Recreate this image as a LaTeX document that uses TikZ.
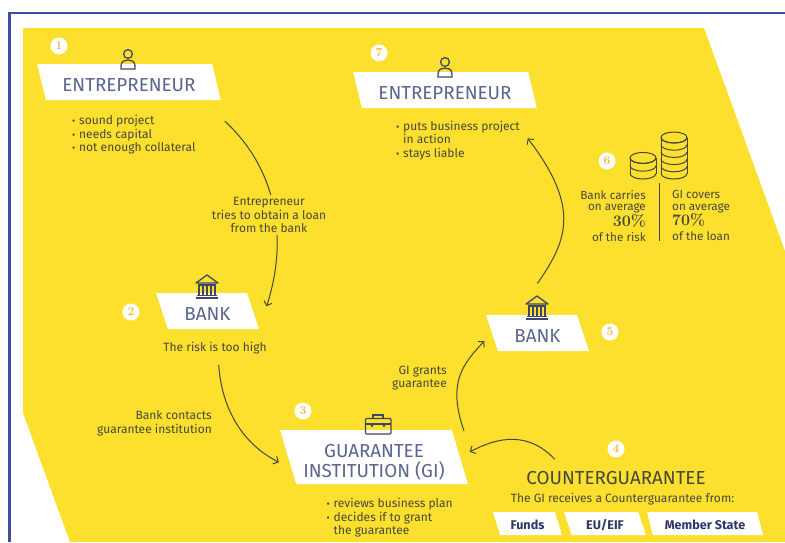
\documentclass[tikz,border=0pt]{standalone}
\usepackage{fontspec}
\setsansfont{Fira Sans}
\renewcommand{\familydefault}{\sfdefault}
\usetikzlibrary{shapes.geometric,arrows.meta}
\definecolor{sunyellow}{HTML}{FDE02E}
\definecolor{framblue}{HTML}{3B4FA0}
\definecolor{slateink}{HTML}{5A6591}
\definecolor{navyink}{HTML}{2F3768}
\definecolor{bodyink}{HTML}{45473F}
\definecolor{numorange}{HTML}{F4B63C}
\newcommand{\itm}{\makebox[7pt][l]{\raisebox{0pt}{\fontsize{10}{10}\selectfont\textbullet}}}
\newcommand{\noitm}{\hspace*{7pt}}
\tikzset{
   labelbox/.style={trapezium,trapezium left angle=110,trapezium right angle=70,trapezium stretches=true,
      fill=white,text=slateink,inner sep=0pt,align=center,text height=19pt,text depth=0pt,font=\fontsize{18.8}{20}\selectfont},
   smallbox/.style={labelbox,text=navyink,text height=12pt,font=\bfseries\fontsize{12.6}{12}\selectfont},
   bodytext/.style={text=bodyink,inner sep=0pt,font=\fontsize{12}{13.6}\selectfont},
   sidetext/.style={text=bodyink,inner sep=0pt,font=\fontsize{11.7}{11.6}\selectfont},
   flow/.style={draw=bodyink,line width=1pt,-{Straight Barb[length=4pt,width=8.5pt]}},
   numdot/.style={circle,fill=white,text=numorange,inner sep=0pt,minimum size=17pt,
      font=\rmfamily\bfseries\fontsize{12}{12}\selectfont},
   icon/.style={draw=slateink!70!black,line width=1.3pt},
   coinline/.style={draw=bodyink,line width=1pt},
   pics/person/.style={code={
      \draw[icon] (0,-5) circle(4.4);
      \draw[icon] (-7,10) -- (-7,7) .. controls (-7,2) and (-3,1) .. (0,1) .. controls (3,1) and (7,2) .. (7,7) -- (7,10) -- cycle;
   }},
   pics/temple/.style={code={
      \draw[icon,line join=round] (-11,-5) -- (0,-13) -- (11,-5) -- cycle;
      \foreach \colx in {-8,-4,0,4,8} {\draw[icon] (\colx,-3) -- (\colx,7);}
      \draw[icon] (-9,-3) -- (9,-3);
      \draw[icon] (-10,7.5) -- (10,7.5);
      \draw[icon] (-11,10) -- (11,10);
   }},
   pics/coins/.style n args={3}{code={
      \foreach \coinn in {0,...,#2} {\draw[coinline] (-#1,{-5.5-\coinn*#3}) arc[start angle=180,end angle=0,x radius=#1,y radius=5.5];}
      \draw[coinline] (-#1,{-5.5-#2*#3}) arc[start angle=180,end angle=-180,x radius=#1,y radius=5.5];
      \draw[coinline] (-#1,-5.5) -- (-#1,{-5.5-#2*#3});
      \draw[coinline] (#1,-5.5) -- (#1,{-5.5-#2*#3});
   }},
}
\begin{document}
\begin{tikzpicture}[x=1pt,y=-1pt]
   \useasboundingbox (0,0) rectangle (785,542);
   \draw[framblue,line width=2.6pt] (9.5,542) -- (9.5,13) -- (785,13);
   \fill[sunyellow] (23,28) -- (704,28) -- (785,251) -- (785,542) -- (70,542) -- (23,413) -- cycle;

   \node[labelbox,minimum width=184pt,minimum height=36pt] (entre1) at (129,82) {ENTREPRENEUR};
   \node[labelbox,minimum width=184pt,minimum height=36pt] (entre7) at (445,90) {ENTREPRENEUR};
   \node[labelbox,minimum width=103pt,minimum height=36pt] (bank2) at (207.5,311) {BANK};
   \node[labelbox,minimum width=103pt,minimum height=36pt] (bank5) at (537.5,333) {BANK};
   \node[labelbox,text height=40pt,text depth=0pt,minimum width=188pt,minimum height=54pt] (gi) at (374,457) {GUARANTEE\\INSTITUTION (GI)};
   \node[smallbox,minimum width=69pt,minimum height=23pt] (funds) at (527.5,523.5) {Funds};
   \node[smallbox,minimum width=82pt,minimum height=23pt] (eueif) at (605,523.5) {EU/EIF};
   \node[smallbox,minimum width=116pt,minimum height=23pt] (mstate) at (705,523.5) {Member State};

   \pic at (128,59) {person};
   \pic at (445,67) {person};
   \pic at (207,288) {temple};
   \pic at (537,309) {temple};
   \draw[icon,rounded corners=1pt] (365.5,418.5) rectangle (391,434);
   \draw[icon] (373,418.5) -- (373,415) -- (383,415) -- (383,418.5);
   \draw[icon] (365.5,424) -- (391,424);
   \fill[slateink!70!black] (372,425.5) circle(1.5) (384,425.5) circle(1.5);

   \node[numdot] (num1) at (59,46) {1};
   \node[numdot] (num2) at (131,312) {2};
   \node[numdot] (num3) at (303,411) {3};
   \node[numdot] (num4) at (616,449) {4};
   \node[numdot] (num5) at (610,332) {5};
   \node[numdot] (num6) at (607,161) {6};
   \node[numdot] (num7) at (379,53) {7};

   \node[bodytext,align=left,anchor=north west] (list1) at (72,115) {\itm sound project\\\itm needs capital\\\itm not enough collateral};
   \node[bodytext,align=left,anchor=north west] (list7) at (396,120.5) {\itm puts business project\\\noitm in action\\\itm stays liable};
   \node[bodytext,align=left,anchor=north west] (list3) at (326.5,498) {\itm reviews business plan\\\itm decides if to grant\\\noitm the guarantee};
   \node[bodytext] (risk) at (215,348) {The risk is too high};
   \node[bodytext,align=right,anchor=east] (contacts) at (212,423) {Bank contacts\\guarantee institution};
   \node[bodytext,align=right,anchor=east] (grants) at (447,378) {GI grants\\guarantee};
   \node[text=bodyink,inner sep=0pt,font=\fontsize{18.8}{20}\selectfont,minimum height=18pt] (counter) at (616,478) {COUNTERGUARANTEE};
   \node[bodytext] (gifrom) at (622.5,499) {The GI receives a Counterguarantee from:};

   \node[sidetext,align=right,anchor=north east] (carries) at (646,190) {Bank carries\\on average\\{\rmfamily\bfseries\fontsize{16}{16}\selectfont 30\%}\\[3pt]of the risk};
   \node[sidetext,align=left,anchor=north west] (covers) at (672,190) {GI covers\\on average\\{\rmfamily\bfseries\fontsize{16}{16}\selectfont 70\%}\\[3pt]of the loan};
   \draw[coinline] (659.5,183) -- (659.5,241);
   \pic at (643,179) {coins={13}{2}{7.8}};
   \pic at (674,179) {coins={13}{5}{7.2}};

   \draw[flow,shorten <=31pt,shorten >=24pt] (entre1.-14) .. controls (278,170) and (288,240) .. (bank2.bottom right corner);
   \node[bodytext,fill=sunyellow,align=center,inner sep=2pt] (tries) at (269,215) {Entrepreneur\\tries to obtain a loan\\from the bank};
   \draw[flow,shorten <=11pt,shorten >=14pt] (risk.-65) .. controls (222,410) and (243,444) .. (gi.188);
   \coordinate (giout) at (464,431);
   \draw[flow,shorten >=11pt] (giout) .. controls (447,382) and (463,364) .. (bank5.west);
   \draw[flow,shorten <=13pt,shorten >=11pt] (counter.170) .. controls (528,431) and (498,437) .. (gi.east);
   \draw[flow,shorten <=38pt,shorten >=38pt] (bank5.140) .. controls (566,242) and (582,209) .. (entre7.-17);
\end{tikzpicture}
\end{document}
